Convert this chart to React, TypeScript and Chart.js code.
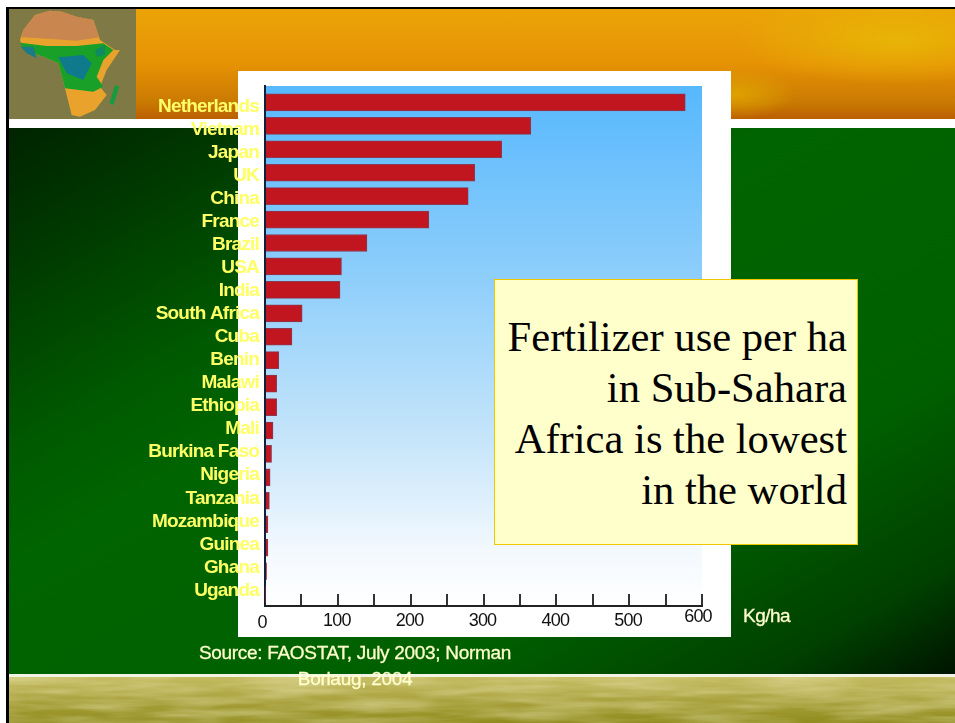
import React, { useEffect, useRef } from "react";
import { Chart, registerables } from "chart.js";

Chart.register(...registerables);

const countries = ["Netherlands","Vietnam","Japan","UK","China","France","Brazil","USA","India","South Africa","Cuba","Benin","Malawi","Ethiopia","Mali","Burkina Faso","Nigeria","Tanzania","Mozambique","Guinea","Ghana","Uganda"];
const fertilizerUse = [577,365,325,288,279,225,140,105,103,51,37,19,16,16,11,9,7,6,4,4,2,1];
const xTickLabels = [0,100,200,300,400,500,600];
const sourceLines = ["Source: FAOSTAT, July 2003; Norman","Borlaug, 2004"];
const calloutLines = ["Fertilizer use per ha","in Sub-Sahara","Africa is the lowest","in the world"];
const unitLabel = "Kg/ha";

const sans = "'Liberation Sans',Arial,sans-serif";

const panelPlugin = {
  id: "panel",
  beforeDraw(chart: any) {
    const { ctx, chartArea: a } = chart;
    const g = ctx.createLinearGradient(0, a.top, 0, a.bottom);
    g.addColorStop(0, "#57b8fd");
    g.addColorStop(0.35, "#8bcdfb");
    g.addColorStop(0.68, "#c6e5fa");
    g.addColorStop(0.9, "#f4f9fe");
    g.addColorStop(1, "#ffffff");
    ctx.save();
    ctx.fillStyle = g;
    ctx.fillRect(a.left, a.top, a.right - a.left, a.bottom - a.top);
    ctx.restore();
    ctx.letterSpacing = "-0.8px";
    const items = chart.scales.x.getLabelItems();
    items.forEach((it: any) => {
      const t = it.options.translation;
      if (it.label === "0" && !it.nudged) { it.options.translation = [t[0] - 2, t[1] + 2]; it.nudged = true; }
      if (it.label === "600" && !it.nudged) { it.options.translation = [t[0] - 3, t[1] - 4]; it.nudged = true; }
    });
  },
};

export default function App() {
  const ref = useRef<HTMLCanvasElement>(null);
  useEffect(() => {
    const chart = new Chart(ref.current!, {
      type: "bar",
      data: {
        labels: countries,
        datasets: [{
          data: fertilizerUse.map((v, i) => ({ x: v, y: i })) as any,
          backgroundColor: "#c1151f",
          borderColor: "#8a3a52",
          borderWidth: 1,
          barThickness: 17,
        }],
      },
      options: {
        indexAxis: "y",
        animation: false,
        responsive: false,
        layout: { padding: { top: 86, right: 253, left: 0, bottom: 0 } },
        plugins: { legend: { display: false }, tooltip: { enabled: false } },
        scales: {
          x: {
            type: "linear",
            min: 0,
            max: 600,
            afterFit: (s: any) => { s.height = 723 - 606; },
            ticks: {
              stepSize: 50,
              autoSkip: false,
              maxRotation: 0,
              padding: 16,
              labelOffset: -1,
              color: "#111",
              font: { family: sans, size: 18 },
              callback: (v: any) => (xTickLabels.includes(Number(v)) ? String(v) : ""),
            },
            grid: { drawOnChartArea: false, drawTicks: true, tickLength: -12, color: "#333", lineWidth: 2 },
            border: { color: "#222", width: 2 },
          },
          y: {
            type: "linear",
            reverse: true,
            offset: false,
            min: -0.7,
            max: 21.49,
            // In the reference the country labels run on a slightly tighter pitch than the bars.
            afterBuildTicks: (s: any) => { s.ticks = countries.map((_, i) => ({ value: 0.17 + i * 0.9838 })); },
            afterFit: (s: any) => { s.width = 265; },
            ticks: {
              autoSkip: false,
              padding: 6,
              color: "#ffff66",
              font: { family: sans, size: 19, weight: "bold" },
              callback: (_v: any, i: number) => countries[i] ?? "",
            },
            grid: { display: false, drawTicks: false },
            border: { color: "#10203a", width: 2 },
          },
        },
      },
      plugins: [panelPlugin],
    } as any);
    return () => chart.destroy();
  }, []);

  const abs = (l: number, t: number, w: number, h: number, extra: React.CSSProperties = {}): React.CSSProperties => ({ position: "absolute", left: l, top: t, width: w, height: h, ...extra });

  return (
    <div style={{ position: "absolute", left: 0, top: 0, width: 955, height: 723, overflow: "hidden", background: "#fff" }}>
      <div style={abs(6, 7, 949, 716, { background: "#000" })} />
      <div style={abs(136, 9, 819, 110, { background: "radial-gradient(ellipse 160px 45px at 760px 30px, rgba(232,182,6,0.95) 0%, rgba(232,182,6,0) 100%), radial-gradient(ellipse 60px 25px at 600px 85px, rgba(226,170,0,0.8) 0%, rgba(226,170,0,0) 100%), linear-gradient(180deg,#eba408 0%,#e69204 50%,#c97a02 85%,#bb5e00 100%)" })} />
      <div style={abs(9, 9, 127, 110, { background: "#7f7a45" })} />
      <svg style={abs(0, 0, 136, 119)} viewBox="0 0 408 357">
        <polygon points="105,45 150,32 185,35 230,50 280,60 300,120 345,150 360,150 320,210 300,260 320,285 285,330 240,350 215,345 195,265 175,190 130,170 70,150 60,120 70,90" fill="#e9a32c" />
        <polygon points="105,45 150,32 185,35 230,50 280,60 298,112 230,122 140,116 65,112 70,90" fill="#c9864f" />
        <polygon points="60,128 140,138 230,138 310,130 340,150 310,180 290,230 310,260 280,275 195,265 175,190 130,170 70,150" fill="#18a028" />
        <polygon points="62,140 100,140 110,175 80,160" fill="#1a7a88" />
        <polygon points="175,172 250,165 275,190 250,240 200,220" fill="#0f7a8c" />
        <polygon points="285,150 315,135 315,165 290,170" fill="#108a60" />
        <polygon points="345,255 358,260 340,315 328,310" fill="#1a9a40" />
      </svg>
      <div style={abs(9, 119, 946, 9, { background: "#fff" })} />
      <div style={abs(9, 128, 946, 546, { background: "linear-gradient(to bottom right,#002400 0%,#003400 10%,#005a00 30%,#006400 40%,#006000 72%,#004000 90%,#001400 100%)" })} />
      <div style={abs(9, 674, 946, 3, { background: "#f3f3e4" })} />
      <div style={abs(9, 677, 946, 46, { background: "linear-gradient(180deg,#c4bb60 0%,#aaa23e 50%,#8f8b1c 100%)" })} />
      <svg style={abs(9, 677, 946, 46, { opacity: 0.45 })}>
        <filter id="water"><feTurbulence type="fractalNoise" baseFrequency="0.012 0.12" numOctaves="3" seed="4" /><feColorMatrix values="0 0 0 0 0.9  0 0 0 0 0.87  0 0 0 0 0.55  1.6 0 0 0 -0.45" /></filter>
        <rect width="946" height="46" filter="url(#water)" />
      </svg>
      <div style={abs(238, 71, 493, 566, { background: "#fff" })} />
      <canvas ref={ref} width={955} height={723} style={{ position: "absolute", left: 0, top: 0 }} />
      <div style={abs(494, 279, 364, 266, { boxSizing: "border-box", background: "#ffffcc", border: "1px solid #f0c800", padding: "31px 10px 0 0", textAlign: "right", fontFamily: "'Liberation Serif',serif", fontSize: 42.6, lineHeight: "51px", color: "#000" })}>
        {calloutLines.map((l) => <div key={l}>{l}</div>)}
      </div>
      <div style={abs(140, 640, 430, 52, { textAlign: "center", fontFamily: sans, fontSize: 19, letterSpacing: -0.3, lineHeight: "26px", color: "#ffffcc", fontWeight: 400, WebkitTextStroke: "0.3px #ffffcc" })}>
        {sourceLines.map((l) => <div key={l}>{l}</div>)}
      </div>
      <div style={abs(743, 604, 60, 24, { fontFamily: sans, fontSize: 19, letterSpacing: -0.5, lineHeight: "24px", color: "#ffffcc", WebkitTextStroke: "0.3px #ffffcc" })}>{unitLabel}</div>
    </div>
  );
}
